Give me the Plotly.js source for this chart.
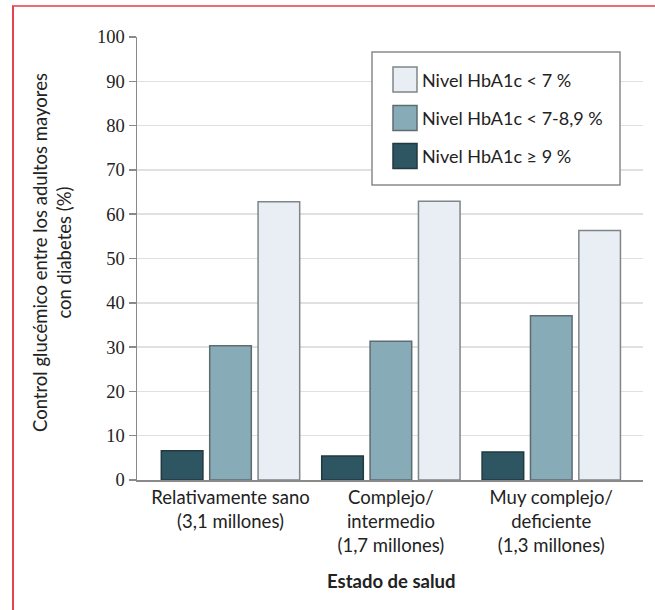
<!DOCTYPE html>
<html>
<head>
<meta charset="utf-8">
<script src="https://cdn.plot.ly/plotly-3.0.1.min.js"></script>
<style>
  html, body { margin: 0; padding: 0; background: #ffffff; }
  #frame { position: absolute; left: 12px; top: 5px; width: 700px; height: 700px;
           border-top: 2px solid #ec6b78; border-left: 2px solid #e8404f; }
  #chart { position: absolute; left: 0; top: 0; width: 655px; height: 610px; }
</style>
</head>
<body>
<div id="frame"></div>
<div id="chart"></div>
<script>
// ---- data ----
const categories = [
  "Relativamente sano<br>(3,1 millones)",
  "Complejo/<br>intermedio<br>(1,7 millones)",
  "Muy complejo/<br>deficiente<br>(1,3 millones)"
];
const seriesNames = ["Nivel HbA1c ≥ 9 %", "Nivel HbA1c < 7-8,9 %", "Nivel HbA1c < 7 %"];
const hba1cHigh = [6.6, 5.4, 6.3];     // ≥ 9 %
const hba1cMid  = [30.3, 31.3, 37.1];  // 7-8,9 %
const hba1cLow  = [62.8, 62.9, 56.3];  // < 7 %
const yTickVals = [0, 10, 20, 30, 40, 50, 60, 70, 80, 90, 100];
const yTitle = "Control glucémico entre los adultos mayores<br>con diabetes (%)";
const xTitle = "Estado de salud";
// legend order as shown (top to bottom)
const legendOrder = [2, 1, 0];

// ---- styles ----
const fills = ["#2e5562", "#88abb8", "#e8eef3"];
const borders = ["#22393f", "#5e6c72", "#7f8588"];
const values = [hba1cHigh, hba1cMid, hba1cLow];
const xIdx = categories.map((c, i) => i);

const W = 655, H = 610;
const M = { l: 137, r: 12, t: 37, b: 130 };
const pw = W - M.l - M.r, ph = H - M.t - M.b;
const px = (x) => (x - M.l) / pw;
const py = (y) => (H - M.b - y) / ph;

const traces = values.map((v, i) => ({
  type: "bar",
  x: xIdx,
  y: v,
  name: seriesNames[i],
  marker: { color: fills[i], line: { color: borders[i], width: 1.5 } },
  showlegend: false,
  hoverinfo: "y"
}));

// custom legend (box + swatches + labels)
const shapes = [{
  type: "rect", xref: "paper", yref: "paper",
  x0: px(372), x1: px(620), y0: py(185), y1: py(52),
  line: { color: "#8a8a8a", width: 1.5 }, fillcolor: "#ffffff", layer: "above"
}];
const annotations = [];
const rowY = [79.5, 118, 156];
legendOrder.forEach((si, r) => {
  shapes.push({
    type: "rect", xref: "paper", yref: "paper",
    x0: px(393), x1: px(417), y0: py(rowY[r] + 12.5), y1: py(rowY[r] - 12.5),
    line: { color: borders[si], width: 1.5 }, fillcolor: fills[si], layer: "above"
  });
  annotations.push({
    xref: "paper", yref: "paper", x: px(420), y: py(rowY[r]),
    xanchor: "left", yanchor: "middle", showarrow: false,
    text: seriesNames[si],
    font: { family: "Lato", size: 18, color: "#222222" }
  });
});
annotations.push({
  xref: "paper", yref: "paper", x: px(52), y: py(253),
  xanchor: "center", yanchor: "middle", showarrow: false, textangle: -90,
  text: yTitle, font: { family: "Lato", size: 18.5, color: "#222222" }
});
annotations.push({
  xref: "x", yref: "paper", x: 1, y: py(581),
  xanchor: "center", yanchor: "middle", showarrow: false,
  text: "<b>" + xTitle + "</b>", font: { family: "Lato", size: 18.5, color: "#222222" }
});

const layout = {
  width: W, height: H,
  margin: M,
  paper_bgcolor: "rgba(0,0,0,0)",
  plot_bgcolor: "rgba(0,0,0,0)",
  barmode: "group",
  bargap: 0.095,
  bargroupgap: 0.14,
  showlegend: false,
  xaxis: {
    range: [-0.583, 2.572],
    tickvals: xIdx,
    ticktext: categories,
    ticks: "",
    showgrid: false,
    zeroline: false,
    showline: true,
    linecolor: "#8a8a8a",
    linewidth: 1.5,
    tickfont: { family: "Lato", size: 18.5, color: "#222222" },
    fixedrange: true
  },
  yaxis: {
    range: [0, 100],
    tickvals: yTickVals,
    ticks: "outside",
    ticklen: 7,
    tickwidth: 1.5,
    tickcolor: "#8a8a8a",
    showgrid: true,
    gridcolor: "#e0e0e0",
    gridwidth: 1.5,
    zeroline: false,
    showline: true,
    linecolor: "#8a8a8a",
    linewidth: 1.5,
    tickfont: { family: "Liberation Serif", size: 18.5, color: "#222222" },
    fixedrange: true
  },
  shapes: shapes,
  annotations: annotations,
  font: { family: "Lato", color: "#222222" }
};

Plotly.newPlot("chart", traces, layout, { displayModeBar: false, staticPlot: true });
</script>
</body>
</html>
